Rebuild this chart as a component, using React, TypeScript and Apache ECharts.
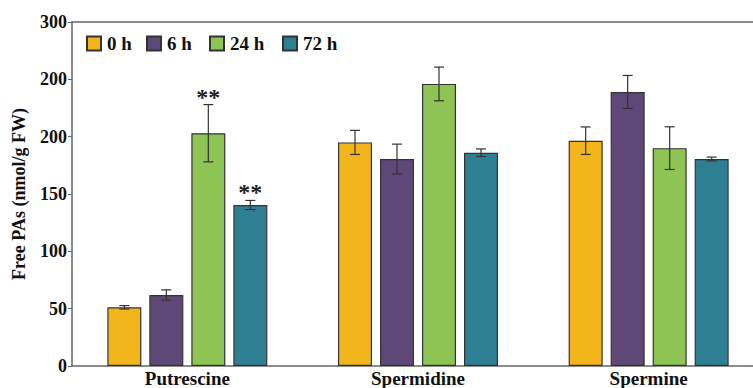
import React, { useEffect, useRef } from "react";
import * as echarts from "echarts";

const categories = ["Putrescine", "Spermidine", "Spermine"];
const seriesNames = ["0 h", "6 h", "24 h", "72 h"];
const colors = ["#F2B61C", "#5E4878", "#8DC453", "#2E7F94"];
// means per series (0h, 6h, 24h, 72h) across categories
const means0h = [51.2, 195, 196.5];
const means6h = [61.9, 180.5, 239];
const means24h = [203, 246, 190];
const means72h = [140.4, 186, 180.5];
const errs0h = [1.5, 10.5, 12];
const errs6h = [4.5, 13, 14.4];
const errs24h = [25, 14.7, 18.6];
const errs72h = [4, 3.3, 1.7];
const sig0h = ["", "", ""];
const sig6h = ["", "", ""];
const sig24h = ["**", "", ""];
const sig72h = ["**", "", ""];
const yTickLabels = ["0", "50", "100", "150", "200", "200", "300"];

const means = [means0h, means6h, means24h, means72h];
const errs = [errs0h, errs6h, errs24h, errs72h];
const sigs = [sig0h, sig6h, sig24h, sig72h];

const FONT = "'Liberation Serif', 'Times New Roman', serif";
const BAR_W = 34;
const GAP = 8;
const legendLefts = [86, 146, 209, 282];

export default function App() {
  const ref = useRef<HTMLDivElement>(null);
  useEffect(() => {
    if (!ref.current) return;
    const chart = echarts.init(ref.current, undefined, { renderer: "svg" });
    const barSeries = seriesNames.map((name, si) => ({
      name,
      type: "bar",
      barWidth: BAR_W,
      barGap: (GAP / BAR_W) * 100 + "%",
      data: means[si],
      itemStyle: { color: colors[si], borderColor: "#333", borderWidth: 1.2 },
    }));
    const errSeries = seriesNames.map((name, si) => ({
      name: name + "-err",
      type: "custom",
      z: 5,
      data: means[si].map((m, ci) => [ci, m, errs[si][ci]]),
      renderItem: (params: any, api: any) => {
        const ci = api.value(0);
        const m = api.value(1);
        const e = api.value(2);
        const off = (si - 1.5) * (BAR_W + GAP);
        const top = api.coord([ci, m + e]);
        const bot = api.coord([ci, m - e]);
        const x = top[0] + off;
        const style = { stroke: "#333", lineWidth: 1.2 };
        const children: any[] = [
          { type: "line", shape: { x1: x, y1: top[1], x2: x, y2: bot[1] }, style },
          { type: "line", shape: { x1: x - 5, y1: top[1], x2: x + 5, y2: top[1] }, style },
          { type: "line", shape: { x1: x - 5, y1: bot[1], x2: x + 5, y2: bot[1] }, style },
        ];
        const s = sigs[si][params.dataIndex];
        if (s) {
          children.push({
            type: "text",
            style: {
              text: s,
              x,
              y: top[1] + 4,
              align: "center",
              verticalAlign: "bottom",
              font: "bold 24px " + FONT,
              fill: "#222",
            },
          });
        }
        return { type: "group", children };
      },
    }));
    chart.setOption({
      animation: false,
      grid: { left: 72, top: 22, height: 344, width: 692 },
      legend: seriesNames.map((n, i) => ({
        data: [n],
        left: legendLefts[i],
        top: 34,
        padding: 0,
        icon: "rect",
        itemWidth: 14,
        itemHeight: 14,
        itemGap: 4,
        textStyle: { fontFamily: FONT, fontWeight: "bold", fontSize: 19, color: "#111", padding: [0, 0, 0, 1] },
      })),
      xAxis: [
        {
          type: "category",
          data: categories,
          axisLine: { lineStyle: { color: "#666", width: 1.5 } },
          axisTick: { show: false },
          axisLabel: { fontFamily: FONT, fontWeight: "bold", fontSize: 19, color: "#111", margin: 3 },
        },
        {
          type: "category",
          data: categories,
          position: "top",
          axisLine: { lineStyle: { color: "#666", width: 1.5 } },
          axisTick: { show: false },
          axisLabel: { show: false },
        },
      ],
      yAxis: {
        type: "value",
        min: 0,
        max: 300,
        interval: 50,
        name: "Free PAs (nmol/g FW)",
        nameLocation: "middle",
        nameGap: 44,
        nameTextStyle: { fontFamily: FONT, fontWeight: "bold", fontSize: 18, color: "#111" },
        axisLine: { show: true, lineStyle: { color: "#666", width: 1.5 } },
        axisTick: { show: true, length: 4, lineStyle: { color: "#666" } },
        splitLine: { show: false },
        axisLabel: {
          fontFamily: FONT,
          fontWeight: "bold",
          fontSize: 18,
          color: "#111",
          margin: 5,
          formatter: (v: number) => yTickLabels[Math.round(v / 50)],
        },
      },
      series: [...barSeries, ...errSeries],
    });
    return () => chart.dispose();
  }, []);
  return (
    <div style={{ position: "absolute", left: 0, top: 0, width: 753, height: 388, overflow: "hidden" }}>
      <div ref={ref} style={{ width: 780, height: 388 }} />
    </div>
  );
}
